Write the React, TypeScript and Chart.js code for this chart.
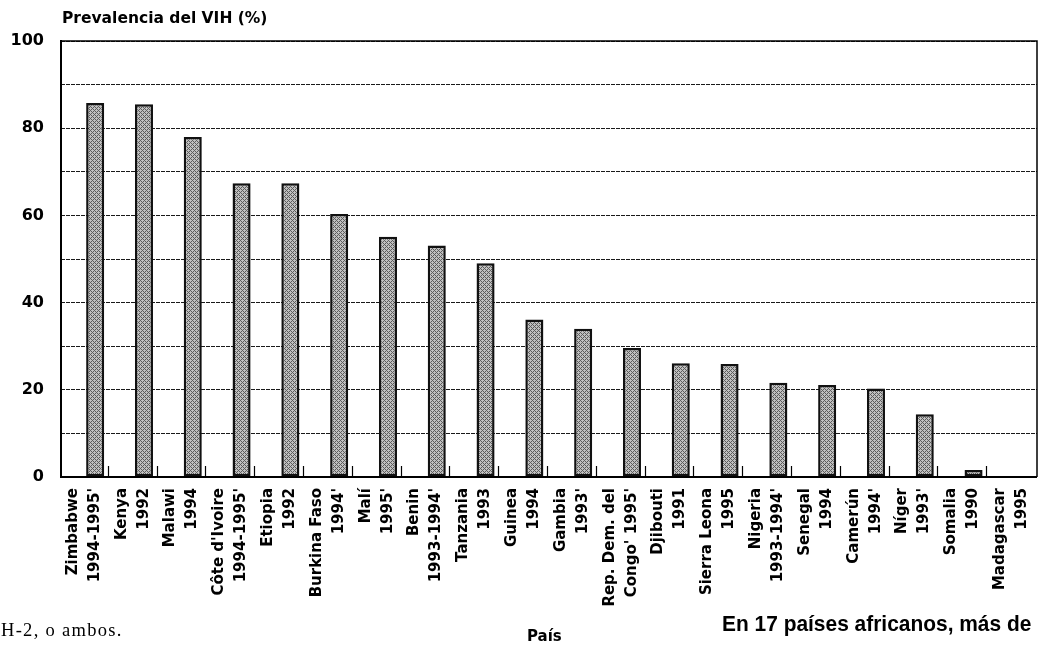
import React, { useEffect, useRef } from "react";
import { Chart, registerables } from "chart.js";

Chart.register(...registerables);

const countries: string[] = [
  "Zimbabwe", "Kenya", "Malawi", "Côte d'Ivoire", "Etiopia", "Burkina Faso", "Malí",
  "Benin", "Tanzania", "Guinea", "Gambia", "Rep. Dem. del", "Djibouti", "Sierra Leona",
  "Nigeria", "Senegal", "Camerún", "Níger", "Somalia", "Madagascar",
];
const years: string[] = [
  "1994-1995'", "1992", "1994", "1994-1995'", "1992", "1994'", "1995'",
  "1993-1994'", "1993", "1994", "1993'", "Congo' 1995'", "1991", "1995",
  "1993-1994'", "1994", "1994'", "1993'", "1990", "1995",
];
const prevalence: number[] = [
  85.8, 85.5, 78.0, 67.4, 67.4, 60.3, 55.1, 53.1, 49.0, 36.1,
  34.0, 29.6, 26.1, 25.9, 21.6, 21.1, 20.3, 14.4, 1.6, 0.2,
];
const yLabelValues: number[] = [0, 20, 40, 60, 80, 100];

function makePattern(): CanvasPattern | string {
  const c = document.createElement("canvas");
  c.width = 4;
  c.height = 4;
  const g = c.getContext("2d");
  if (!g) return "#a0a0a0";
  g.fillStyle = "#c0c0c0";
  g.fillRect(0, 0, 4, 4);
  g.fillStyle = "#5c5c5c";
  const dark = [[0, 0], [1, 1], [1, 3], [2, 2], [3, 1], [3, 3]];
  dark.forEach(([x, y]) => g.fillRect(x, y, 1, 1));
  const p = g.createPattern(c, "repeat");
  return p || "#a0a0a0";
}

const shiftBars = {
  id: "shiftBars",
  afterDatasetsUpdate(chart: any) {
    const xs = chart.scales.x;
    const n = chart.data.labels.length;
    const w = xs.width / n;
    chart.getDatasetMeta(0).data.forEach((el: any) => {
      el.x += 0.2 * w;
    });
  },
};

const frame = {
  id: "frame",
  afterDatasetsDraw(chart: any) {
    const { ctx, chartArea: a } = chart;
    const xs = chart.scales.x;
    const n = chart.data.labels.length;
    ctx.save();
    ctx.strokeStyle = "#000";
    ctx.lineWidth = 1.2;
    for (let i = 1; i < n; i++) {
      const x = Math.round((xs.getPixelForTick(i - 1) + xs.getPixelForTick(i)) / 2) - 1.5;
      ctx.beginPath();
      ctx.moveTo(x, a.bottom);
      ctx.lineTo(x, a.bottom - 11);
      ctx.stroke();
    }
    ctx.lineWidth = 1.5;
    ctx.beginPath();
    ctx.moveTo(a.left, a.top);
    ctx.lineTo(a.right, a.top);
    ctx.lineTo(a.right, a.bottom);
    ctx.stroke();
    ctx.lineWidth = 2;
    ctx.beginPath();
    ctx.moveTo(a.left, a.top - 1);
    ctx.lineTo(a.left, a.bottom);
    ctx.lineTo(a.right, a.bottom);
    ctx.stroke();
    ctx.restore();
  },
};

export default function App() {
  const ref = useRef<HTMLCanvasElement>(null);

  useEffect(() => {
    if (!ref.current) return;
    const labels = countries.map((c, i) => [c, years[i]]);
    const chart = new Chart(ref.current, {
      type: "bar",
      data: {
        labels,
        datasets: [
          {
            data: prevalence,
            backgroundColor: makePattern() as any,
            borderColor: "#111",
            borderWidth: 2.5,
            borderSkipped: false,
            categoryPercentage: 1,
            barPercentage: 0.37,
          },
        ],
      },
      options: {
        animation: false,
        responsive: false,
        devicePixelRatio: 1,
        layout: { autoPadding: false, padding: { top: 41, right: 3, left: 0, bottom: 0 } },
        plugins: {
          legend: { display: false },
          tooltip: { enabled: false },
          title: { display: false },
        },
        scales: {
          x: {
            grid: { display: false, drawTicks: false },
            border: { display: false },
            ticks: {
              autoSkip: false,
              minRotation: 90,
              maxRotation: 90,
              padding: 11,
              labelOffset: -12.5,
              color: "#000",
              font: { family: "'DejaVu Sans', sans-serif", weight: "bold", size: 15, lineHeight: 1.47 },
            },
            afterFit: (s: any) => {
              s.height = 169;
              s.paddingLeft = 0;
              s.paddingRight = 0;
            },
          },
          y: {
            min: 0,
            max: 100,
            grid: {
              drawTicks: false,
              color: "#1a1a1a",
              lineWidth: 1,
            },
            border: { display: false, dash: [4, 1] },
            ticks: {
              stepSize: 10,
              padding: 17,
              color: "#000",
              font: { family: "'DejaVu Sans', sans-serif", weight: "bold", size: 16 },
              callback: (v: any) => (yLabelValues.includes(Number(v)) ? String(v) : ""),
            },
            afterFit: (s: any) => {
              s.width = 61;
              s.paddingTop = 0;
              s.paddingBottom = 0;
            },
          },
        },
      },
      plugins: [shiftBars, frame],
    });
    return () => chart.destroy();
  }, []);

  return (
    <div style={{ position: "absolute", left: 0, top: 0, width: 1040, height: 646, overflow: "hidden", background: "#fff" }}>
      <canvas ref={ref} width={1040} height={646} style={{ position: "absolute", left: 0, top: 0 }} />
      <div
        style={{
          position: "absolute", left: 62, top: 9, fontFamily: "'DejaVu Sans', sans-serif",
          fontWeight: "bold", fontSize: 15.5, color: "#000", whiteSpace: "nowrap",
        }}
      >
        Prevalencia del VIH (%)
      </div>
      <div
        style={{
          position: "absolute", left: 1, top: 620, fontFamily: "'Liberation Serif', serif",
          fontSize: 18.5, letterSpacing: 1.3, color: "#000", whiteSpace: "nowrap",
        }}
      >
        H-2, o ambos.
      </div>
      <div
        style={{
          position: "absolute", left: 527, top: 627, fontFamily: "'DejaVu Sans', sans-serif",
          fontWeight: "bold", fontSize: 15, color: "#000", whiteSpace: "nowrap",
        }}
      >
        País
      </div>
      <div
        style={{
          position: "absolute", left: 722, top: 611, fontFamily: "'Liberation Sans', sans-serif",
          fontWeight: "bold", fontSize: 22.5, color: "#000", whiteSpace: "nowrap",
          transform: "scaleX(0.93)", transformOrigin: "left top",
        }}
      >
        En 17 países africanos, más de
      </div>
    </div>
  );
}
